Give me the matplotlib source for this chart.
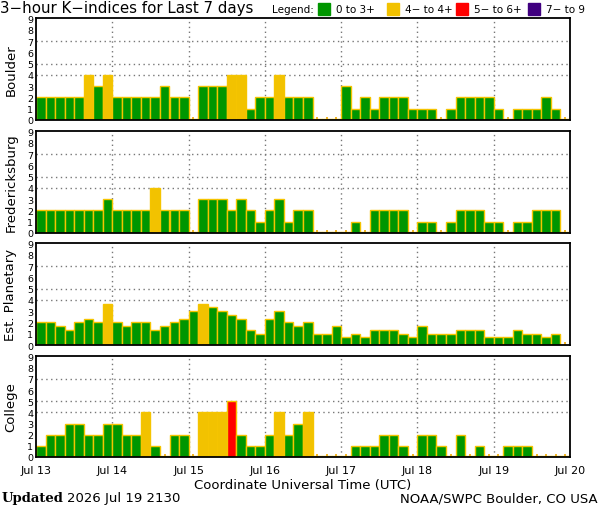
import numpy as np
import matplotlib
matplotlib.use("Agg")
import matplotlib.pyplot as plt
from matplotlib.patches import Rectangle

# ---- data ----
day_labels = ["Jul 13", "Jul 14", "Jul 15", "Jul 16", "Jul 17", "Jul 18", "Jul 19", "Jul 20"]
stations = ["Boulder", "Fredericksburg", "Est. Planetary", "College"]

boulder = [2, 2, 2, 2, 2, 4, 3, 4,
           2, 2, 2, 2, 2, 3, 2, 2,
           0, 3, 3, 3, 4, 4, 1, 2,
           2, 4, 2, 2, 2, 0, 0, 0,
           3, 1, 2, 1, 2, 2, 2, 1,
           1, 1, 0, 1, 2, 2, 2, 2,
           1, 0, 1, 1, 1, 2, 1, 0]
fredericksburg = [2, 2, 2, 2, 2, 2, 2, 3,
                  2, 2, 2, 2, 4, 2, 2, 2,
                  0, 3, 3, 3, 2, 3, 2, 1,
                  2, 3, 1, 2, 2, 0, 0, 0,
                  0, 1, 0, 2, 2, 2, 2, 0,
                  1, 1, 0, 1, 2, 2, 2, 1,
                  1, 0, 1, 1, 2, 2, 2, 0]
planetary = [2.00, 2.00, 1.67, 1.33, 2.00, 2.33, 2.00, 3.67,
             2.00, 1.67, 2.00, 2.00, 1.33, 1.67, 2.00, 2.33,
             3.00, 3.67, 3.33, 3.00, 2.67, 2.33, 1.33, 1.00,
             2.33, 3.00, 2.00, 1.67, 2.00, 1.00, 1.00, 1.67,
             0.67, 1.00, 0.67, 1.33, 1.33, 1.33, 1.00, 0.67,
             1.67, 1.00, 1.00, 1.00, 1.33, 1.33, 1.33, 0.67,
             0.67, 0.67, 1.33, 1.00, 1.00, 0.67, 1.00, np.nan]
college = [1, 2, 2, 3, 3, 2, 2, 3,
           3, 2, 2, 4, 1, 0, 2, 2,
           0, 4, 4, 4, 5, 2, 1, 1,
           2, 4, 2, 3, 4, 0, 0, 0,
           0, 1, 1, 1, 2, 2, 1, 0,
           2, 2, 1, 0, 2, 0, 1, 0,
           0, 1, 1, 1, 0, 0, 0, 0]
series = [boulder, fredericksburg, planetary, college]

legend_labels = ["0 to 3+", "4\u2212 to 4+", "5\u2212 to 6+", "7\u2212 to 9"]
# ---- style ----
GREEN = "#009600"
YELLOW = "#F2C200"
RED = "#FF0000"
PURPLE = "#400080"
EDGE = "#F5C400"
legend_colors = [GREEN, YELLOW, RED, PURPLE]


def kcolor(v):
    if v < 3.5:
        return GREEN
    if v < 4.5:
        return YELLOW
    if v < 6.5:
        return RED
    return PURPLE


W, H = 600, 510
fig = plt.figure(figsize=(6.0, 5.1), dpi=100)
fig.patch.set_facecolor("white")

panel_px = [(19, 121), (132, 234), (244, 346), (357, 458)]
left_px, right_px = 36, 570

ndays = 7
nper = 8
width = 1.0 / nper

for name, vals, (top, bot) in zip(stations, series, panel_px):
    ax = fig.add_axes([left_px / W, 1 - bot / H, (right_px - left_px) / W, (bot - top) / H])
    vals = np.asarray(vals, dtype=float)
    x = np.arange(len(vals)) * width
    for xi, v in zip(x, vals):
        if np.isnan(v):
            continue
        h = max(v, 0.12)
        ax.bar(xi, h, width=width, align="edge", color=kcolor(v),
               edgecolor=EDGE, linewidth=1.0, zorder=2)
    ax.set_xlim(0, ndays)
    ax.set_ylim(0, 9.05)
    for d in range(1, ndays):
        ax.axvline(d, color="#777777", linestyle=(0, (1, 2.5)), linewidth=1.0, zorder=1)
    for g in (4, 5, 7):
        ax.axhline(g, color="#777777", linestyle=(0, (1, 2.5)), linewidth=1.0, zorder=1)
    ax.set_yticks(range(10))
    ax.set_yticklabels([str(i) for i in range(10)], fontsize=6.8)
    ax.tick_params(axis="y", length=0, pad=2)
    ax.set_xticks(np.arange(ndays + 1))
    ax.set_xticks(x + width / 2, minor=True)
    ax.tick_params(axis="x", which="minor", direction="in", length=2.5, width=1.2,
                   color="#F0A800", bottom=True)
    ax.tick_params(axis="x", which="major", length=0)
    ax.set_ylabel(name, fontsize=9.5, labelpad=7)
    for sp in ax.spines.values():
        sp.set_linewidth(1.3)
        sp.set_zorder(5)
    if name == "College":
        ax.set_xticklabels(day_labels, fontsize=8)
        ax.tick_params(axis="x", which="major", pad=6)
        ax.set_xlabel("Coordinate Universal Time (UTC)", fontsize=9.5, labelpad=2)
    else:
        ax.set_xticklabels([])

fig.text(0.0, 1 - 9 / H, "3\u2212hour K\u2212indices for Last 7 days", fontsize=10.8,
         ha="left", va="center")
fig.text(272 / W, 1 - 10 / H, "Legend:", fontsize=7.5, ha="left", va="center")
lx = [318, 387, 456, 528]
for px, col, lab in zip(lx, legend_colors, legend_labels):
    fig.patches.append(Rectangle((px / W, 1 - 16 / H), 12 / W, 12 / H,
                                 transform=fig.transFigure, color=col))
    fig.text((px + 18) / W, 1 - 10 / H, lab, fontsize=7.5, ha="left", va="center")

fig.text(2 / W, 1 - 499 / H, "Updated", fontsize=9.5, fontweight="bold",
         family="DejaVu Serif", ha="left", va="center")
fig.text(67 / W, 1 - 499 / H, "2026 Jul 19 2130", fontsize=9.5, ha="left", va="center")
fig.text(598 / W, 1 - 499 / H, "NOAA/SWPC Boulder, CO USA", fontsize=9.5,
         ha="right", va="center")

fig.savefig("out.png", dpi=100, facecolor="white")
